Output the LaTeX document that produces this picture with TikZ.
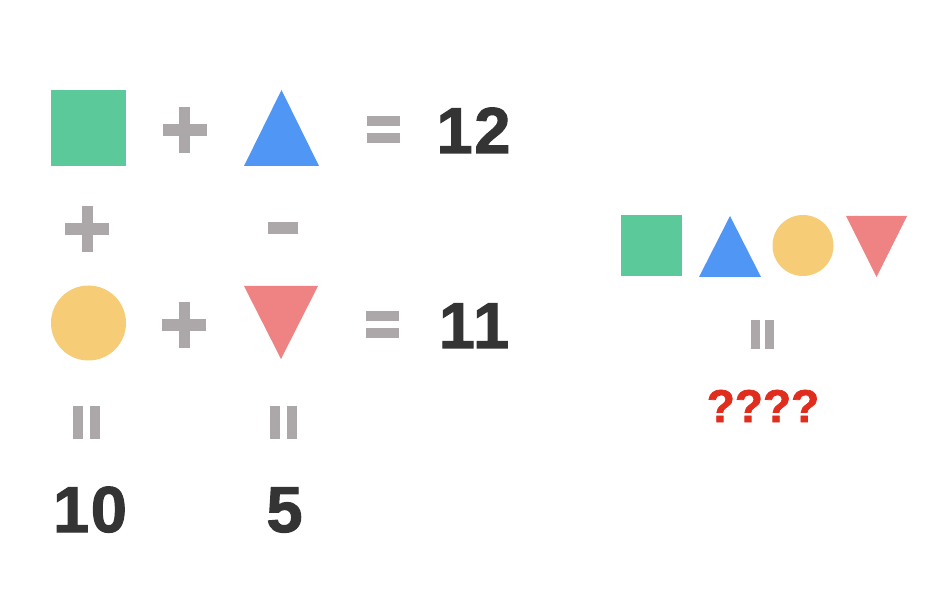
\documentclass[tikz,border=0pt]{standalone}
\usepackage{fontspec}
\setmainfont{Liberation Sans}
\newfontfamily\heavyfont[FakeBold=1.6,LetterSpace=2.5]{Liberation Sans Bold}
\newfontfamily\qfont[FakeBold=1.6]{Liberation Sans Bold}
\definecolor{sqgreen}{RGB}{92,201,154}
\definecolor{triblue}{RGB}{80,150,245}
\definecolor{circyellow}{RGB}{246,204,118}
\definecolor{trired}{RGB}{239,130,130}
\definecolor{opgray}{RGB}{172,168,170}
\definecolor{numdark}{RGB}{52,52,52}
\definecolor{qred}{RGB}{225,45,30}
\tikzset{
  plusop/.pic={\fill[opgray] (-22,-6) rectangle (22,6);
               \fill[opgray] (-5.5,-23) rectangle (5.5,23);},
  minusop/.pic={\fill[opgray] (-15,-6) rectangle (15,6);},
  eqop/.pic={\fill[opgray] (-16.5,-13.5) rectangle (16.5,-3.5);
             \fill[opgray] (-16.5,3.5) rectangle (16.5,13.5);},
  num/.style={text=numdark, font=\heavyfont\fontsize{65}{70}\selectfont, inner sep=0pt, anchor=base},
  qmark/.style={text=qred, font=\qfont\fontsize{46}{50}\selectfont, inner sep=0pt, anchor=base}
}
\begin{document}
\begin{tikzpicture}[x=1pt,y=-1pt]
\useasboundingbox (0,0) rectangle (942,593);
\fill[white] (0,0) rectangle (942,593);
% row 1
\fill[sqgreen] (51,90) rectangle (126,166);
\pic at (184.5,130.5) {plusop};
\fill[triblue] (244,166) -- (281.5,90) -- (319,166) -- cycle;
\pic at (383.5,129.5) {eqop};
\node[num] (n12) at (473.5,153) {12};
% row between
\pic at (87,229.5) {plusop};
\pic at (283,228.5) {minusop};
% row 2
\fill[circyellow] (88.5,323) circle[radius=37.5];
\pic at (184,325) {plusop};
\fill[trired] (244,286) -- (318,286) -- (281,359) -- cycle;
\pic at (382,324.5) {eqop};
\node[num] (n11) at (474,348) {11};
% row 3
\pic[rotate=90] at (86,422) {eqop};
\pic[rotate=90] at (283,422) {eqop};
\node[num] (n10) at (90,532) {10};
\node[num] (n5) at (284.5,532) {5};
% right side
\fill[sqgreen] (621,215) rectangle (682,276);
\fill[triblue] (699,277) -- (730,216) -- (761,277) -- cycle;
\fill[circyellow] (803,245.5) circle[radius=30.5];
\fill[trired] (846,216) -- (907,216) -- (876.5,277) -- cycle;
\pic[rotate=90,scale=0.85] at (762.5,334.5) {eqop};
\node[qmark] (q) at (763,422) {????};
\end{tikzpicture}
\end{document}
